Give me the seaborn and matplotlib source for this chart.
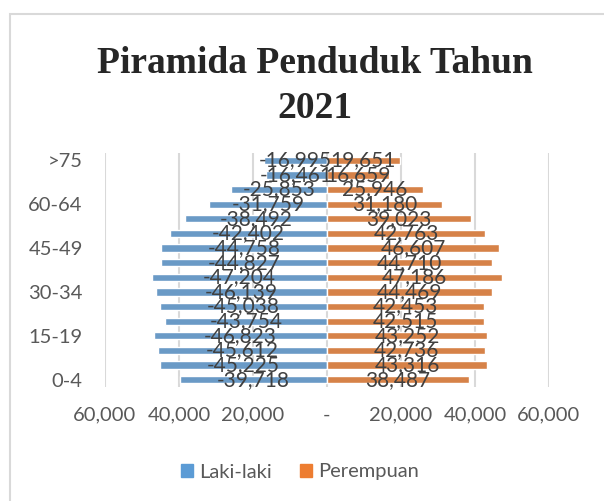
import pandas as pd
import numpy as np
import matplotlib.pyplot as plt
import seaborn as sns
from matplotlib.patches import Rectangle
from matplotlib.ticker import FuncFormatter

# ==============================
# DATA
# ==============================
age_groups = ["0-4", "5-9", "10-14", "15-19", "20-24", "25-29", "30-34", "35-39",
              "40-44", "45-49", "50-54", "55-59", "60-64", "65-69", "70-74", ">75"]
laki_laki = [-39718, -45225, -45612, -46823, -43754, -45038, -46139, -47204,
             -44827, -44758, -42402, -38492, -31759, -25853, -16461, -16995]
perempuan = [38487, 43316, 42736, 43252, 42515, 42453, 44469, 47186,
             44710, 46607, 42763, 39023, 31180, 25946, 16659, 19651]
x_ticks = [-60000, -40000, -20000, 0, 20000, 40000, 60000]
shown_groups = ["0-4", "15-19", "30-34", "45-49", "60-64", ">75"]

df = pd.DataFrame({
    "Umur": age_groups * 2,
    "Jumlah": laki_laki + perempuan,
    "Jenis": ["Laki-laki"] * len(age_groups) + ["Perempuan"] * len(age_groups),
})
order = age_groups[::-1]

# ==============================
# PLOT
# ==============================
sns.set_style("white")
plt.rcParams["font.family"] = ["Lato", "DejaVu Sans"]

fig = plt.figure(figsize=(6.04, 5.01), dpi=100)
ax = fig.add_axes([105 / 604, 1 - 387 / 501, 444 / 604, 234 / 501])

sns.barplot(data=df, y="Umur", x="Jumlah", hue="Jenis", order=order,
            hue_order=["Laki-laki", "Perempuan"], dodge=False, orient="h",
            palette=["#5B9BD5", "#ED7D31"], width=0.5, ax=ax, legend=False,
            zorder=3)

for cont in ax.containers:
    ax.bar_label(cont, labels=[f"{v:,.0f}" for v in cont.datavalues],
                 label_type="center", fontsize=15, color="#404040", zorder=4)

ax.set_xlim(-60000, 60000)
ax.set_ylim(len(order) - 0.5, -0.5)
ax.set_xticks(x_ticks)
ax.xaxis.set_major_formatter(FuncFormatter(lambda v, p: "-" if v == 0 else f"{abs(v):,.0f}"))
ax.set_yticks([order.index(g) for g in shown_groups])
ax.set_yticklabels(shown_groups)
ax.tick_params(axis="x", length=0, pad=14, labelsize=14.5, labelcolor="#595959")
ax.tick_params(axis="y", length=0, pad=16, labelsize=14.5, labelcolor="#595959")
ax.grid(axis="x", color="#d9d9d9", lw=1.5, zorder=0)
ax.grid(axis="y", visible=False)
for s in ax.spines.values():
    s.set_visible(False)
ax.set_xlabel("")
ax.set_ylabel("")

# title
fig.text(0.521, 1 - 86 / 501, "Piramida Penduduk Tahun\n2021", ha="center", va="center",
         fontsize=27, fontweight="bold", family="Liberation Serif", linespacing=1.4)

# legend
handles = [plt.Rectangle((0, 0), 1, 1, color="#5B9BD5"),
           plt.Rectangle((0, 0), 1, 1, color="#ED7D31")]
fig.legend(handles, ["Laki-laki", "Perempuan"], loc="center",
           bbox_to_anchor=(300 / 604, 1 - 472 / 501), ncol=2, frameon=False,
           handlelength=0.6, handleheight=0.6, handletextpad=0.3,
           columnspacing=1.4, labelcolor="#595959", fontsize=14.5)

# chart border
fig.patches.append(Rectangle((10 / 604, -0.1), 1.0, 1 - 14 / 501 + 0.1,
                             transform=fig.transFigure, fill=False,
                             edgecolor="#d9d9d9", lw=1.5))

fig.savefig("out.png", dpi=100)
